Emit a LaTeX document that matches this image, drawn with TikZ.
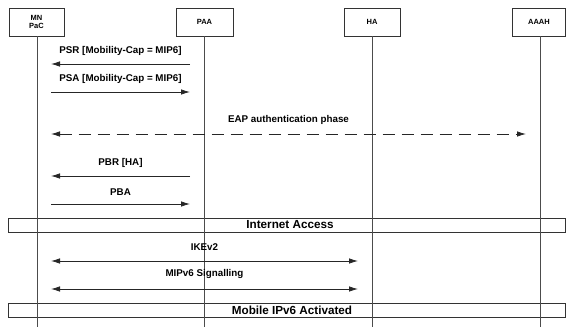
\documentclass[tikz,border=0pt]{standalone}
\usepackage{fontspec}
\setmainfont{Liberation Sans}
\usetikzlibrary{arrows.meta}
\begin{document}
\begin{tikzpicture}[x=1pt,y=-1pt,
  actor/.style={draw=black!80,line width=0.8pt,minimum width=55pt,minimum height=28pt,inner sep=0pt,align=center,font=\fontsize{7.5}{8.5}\selectfont\bfseries},
  life/.style={draw=black!70,line width=0.8pt},
  tip/.style={Latex[length=9pt,width=5.5pt]},
  msg/.style={draw=black!85,line width=0.8pt,-{Latex[length=9pt,width=5.5pt]}},
  both/.style={{Latex[length=9pt,width=5.5pt]}-{Latex[length=9pt,width=5.5pt]}},
  lbl/.style={font=\fontsize{9.8}{11}\selectfont\bfseries,inner sep=0pt},
  bar/.style={draw=black!80,line width=0.8pt},
  barlbl/.style={font=\fontsize{11.7}{13}\selectfont\bfseries,inner sep=0pt}]
\useasboundingbox (0,0) rectangle (566,327);
% actors
\node[actor] (mn) at (36.5,22) {MN\\PaC};
\node[actor,minimum width=57pt] (paa) at (204.5,22) {PAA};
\node[actor,minimum width=56pt] (ha) at (372,22) {HA};
\node[actor,minimum width=53pt] (aaah) at (539,22) {AAAH};
% lifeline bottoms
\coordinate (mnb) at (37,327);
\coordinate (paab) at (204,327);
\coordinate (hab) at (372,327);
\coordinate (aaahb) at (540,327);
% bars
\draw[bar] (8,218) rectangle (565,232);
\node[barlbl] (ia) at (290,225) {Internet Access};
\draw[bar] (8,303) rectangle (565,317);
\node[barlbl] (mia) at (292,310) {Mobile IPv6 Activated};
% lifelines
\draw[life] (mn.south -| mnb) -- (mnb);
\draw[life] (paa.south -| paab) -- (paab);
\draw[life] (ha.south -| hab) -- (hab);
\draw[life] (aaah.south -| aaahb) -- (aaahb);
% message endpoints
\coordinate (psr1) at (190,64); \coordinate (psr2) at (51,64);
\coordinate (psa1) at (51,92); \coordinate (psa2) at (190,92);
\coordinate (eap1) at (51,134); \coordinate (eap2) at (526,134);
\coordinate (pbr1) at (190,176); \coordinate (pbr2) at (51,176);
\coordinate (pba1) at (51,204); \coordinate (pba2) at (190,204);
\coordinate (ike1) at (51,261); \coordinate (ike2) at (358,261);
\coordinate (mip1) at (51,289); \coordinate (mip2) at (358,289);
% messages
\draw[msg] (psr1) -- node[lbl,above=8.5pt] (psrl) {PSR [Mobility-Cap = MIP6]} (psr2);
\draw[msg] (psa1) -- node[lbl,above=8.5pt] (psal) {PSA [Mobility-Cap = MIP6]} (psa2);
\draw[msg,both,dash pattern=on 12pt off 7pt] (eap1) -- node[lbl,above=9pt] (eapl) {EAP authentication phase} (eap2);
\draw[msg] (pbr1) -- node[lbl,above=8.5pt] (pbrl) {PBR [HA]} (pbr2);
\draw[msg] (pba1) -- node[lbl,above=8.5pt] (pbal) {PBA} (pba2);
\draw[msg,both] (ike1) -- node[lbl,above=10pt] (ikel) {IKEv2} (ike2);
\draw[msg,both] (mip1) -- node[lbl,above=10pt] (mipl) {MIPv6 Signalling} (mip2);
\end{tikzpicture}
\end{document}
